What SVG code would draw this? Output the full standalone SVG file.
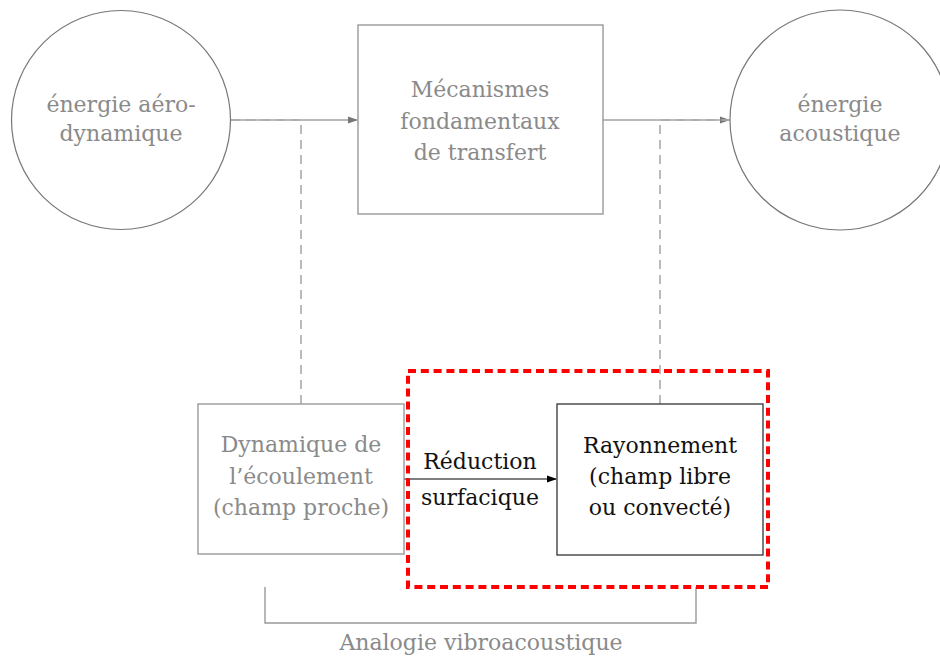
<svg xmlns="http://www.w3.org/2000/svg" width="940" height="660" viewBox="0 0 940 660">
<defs>
<marker id="ag" markerWidth="10" markerHeight="8" refX="9" refY="4" orient="auto" markerUnits="userSpaceOnUse"><path d="M0,0.5 L10,4 L0,7.5 Z" fill="#777"/></marker>
<marker id="ab" markerWidth="10" markerHeight="8" refX="9" refY="4" orient="auto" markerUnits="userSpaceOnUse"><path d="M0,0.5 L10,4 L0,7.5 Z" fill="#000"/></marker>
</defs>
<style>
text{font-family:"DejaVu Serif","Liberation Serif",serif;font-size:22px;text-anchor:middle}
.g{fill:#8a8a8a}
.k{fill:#111}
.gs{fill:none;stroke:#777;stroke-width:1.2}
.gl{fill:none;stroke:#999;stroke-width:1.4}
.dash{fill:none;stroke:#aaa;stroke-width:1.6;stroke-dasharray:9 6}
</style>
<rect width="940" height="660" fill="#fff"/>
<g id="connectors">
<line class="gs" x1="231" y1="120" x2="357" y2="120" marker-end="url(#ag)"/>
<line class="gs" x1="603" y1="120" x2="729" y2="120" marker-end="url(#ag)"/>
<path class="dash" d="M231,120 H301 V404"/>
<path class="dash" d="M730,120 H660 V404"/>
<line x1="404" y1="479" x2="556" y2="479" stroke="#000" stroke-width="1.2" marker-end="url(#ab)"/>
<path class="gl" d="M265,587 V623 H696 V587"/>
</g>
<g id="n-aero">
<circle class="gs" cx="121" cy="120" r="109.5" fill="#fff"/>
<text class="g" x="121" y="112">énergie aéro-</text>
<text class="g" x="121" y="141">dynamique</text>
</g>
<g id="n-meca">
<rect class="gl" x="358" y="25" width="245" height="189" fill="#fff"/>
<text class="g" x="480" y="97">Mécanismes</text>
<text class="g" x="480" y="129">fondamentaux</text>
<text class="g" x="480" y="160">de transfert</text>
</g>
<g id="n-acou">
<circle class="gs" cx="840" cy="120" r="110" fill="#fff"/>
<text class="g" x="840" y="112">énergie</text>
<text class="g" x="840" y="141">acoustique</text>
</g>
<g id="n-dyn">
<rect class="gl" x="198" y="404" width="206" height="150" fill="#fff"/>
<text class="g" x="301" y="452">Dynamique de</text>
<text class="g" x="301" y="484">l’écoulement</text>
<text class="g" x="301" y="515">(champ proche)</text>
</g>
<g id="n-ray">
<rect x="557" y="404" width="206" height="151" fill="#fff" stroke="#333" stroke-width="1.3"/>
<text class="k" x="660" y="453">Rayonnement</text>
<text class="k" x="660" y="484">(champ libre</text>
<text class="k" x="660" y="515">ou convecté)</text>
</g>
<g id="n-red">
<text class="k" x="480" y="469">Réduction</text>
<text class="k" x="480" y="505">surfacique</text>
</g>
<g id="n-box">
<rect x="408" y="371" width="360" height="216" fill="none" stroke="#f00" stroke-width="4" stroke-dasharray="8 4.8"/>
</g>
<g id="n-analogie">
<text class="g" x="481" y="650">Analogie vibroacoustique</text>
</g>
</svg>
